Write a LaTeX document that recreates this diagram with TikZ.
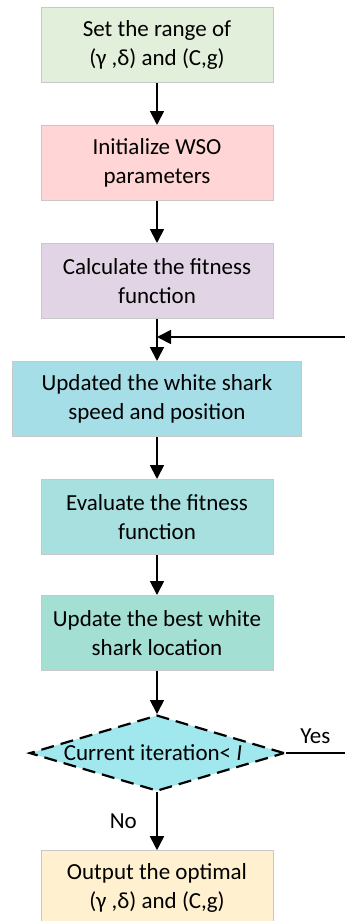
\documentclass[tikz,border=0pt]{standalone}
\usepackage{fontspec}
\setmainfont{Carlito}
\usepackage{tikz}
\usetikzlibrary{positioning,shapes.geometric,arrows.meta}
\def\BoxWidth{232pt}
\def\BoxHeight{75pt}
\def\StepGap{42pt}

\definecolor{rangegreen}{HTML}{E2EFDA}
\definecolor{initpink}{HTML}{FFD5D5}
\definecolor{fitlilac}{HTML}{E1D5E5}
\definecolor{speedcyan}{HTML}{A6DEE8}
\definecolor{evalteal}{HTML}{A8E0E0}
\definecolor{bestteal}{HTML}{A4DFD4}
\definecolor{testcyan}{HTML}{A0E8EE}
\definecolor{outyellow}{HTML}{FFF0CF}
\definecolor{edgegray}{HTML}{C8C8C8}

\tikzset{
  stepbox/.style={draw=edgegray, line width=1pt, minimum width=\BoxWidth,
    minimum height=\BoxHeight, align=center, inner sep=2pt,
    font=\fontsize{23}{29}\selectfont},
  testbox/.style={diamond, draw=black, line width=2.2pt, dash pattern=on 13pt off 7pt,
    fill=testcyan, aspect=3.35, inner sep=0pt, minimum width=255pt, minimum height=76pt},
  flow/.style={line width=1.8pt, -{Triangle[width=14pt,length=14pt]}},
  plain/.style={line width=1.8pt},
  tag/.style={font=\fontsize{23}{29}\selectfont}
}

\begin{document}
\begin{tikzpicture}[x=1pt,y=1pt]
  \useasboundingbox (0,0) rectangle (345,-921);
  % main chain of steps
  \node[stepbox, fill=rangegreen] (range) at (157,-45) {Set the range of\\(γ ,δ) and (C,g)};
  \node[stepbox, fill=initpink, below=\StepGap of range] (init) {Initialize WSO\\parameters};
  \node[stepbox, fill=fitlilac, below=\StepGap of init] (fit) {Calculate the fitness\\function};
  \node[stepbox, fill=speedcyan, minimum width=289pt, below=\StepGap of fit] (speed) {Updated the white shark\\speed and position};
  \node[stepbox, fill=evalteal, below=\StepGap of speed] (eval) {Evaluate the fitness\\function};
  \node[stepbox, fill=bestteal, below=40pt of eval] (best) {Update the best white\\shark location};
  \node[testbox, below=43pt of best] (test) {};
  \node[tag] (testtext) at ([xshift=-4pt]test.center) {Current iteration< \textit{I}};
  \node[stepbox, fill=outyellow, below=58pt of test] (out) {Output the optimal\\(γ ,δ) and (C,g)};
  % loop entry and exit points
  \coordinate (loopjoin) at ([yshift=-18pt]fit.south);
  \path (loopjoin) ++(188,0) coordinate (loopin);
  \path (test.east -| loopin) coordinate (yesend);
  %
  \draw[flow] (range) -- (init);
  \draw[flow] (init) -- (fit);
  \draw[flow] (fit) -- (speed);
  \draw[flow] (loopin) -- (loopjoin);
  \draw[flow] (speed) -- (eval);
  \draw[flow] (eval) -- (best);
  \draw[flow] (best) -- (test);
  \draw[flow] (test) -- node[tag, left=16pt] (no) {No} (out);
  \draw[plain] (test.east) -- node[tag, above=5pt] (yes) {Yes} (yesend);
\end{tikzpicture}
\end{document}
